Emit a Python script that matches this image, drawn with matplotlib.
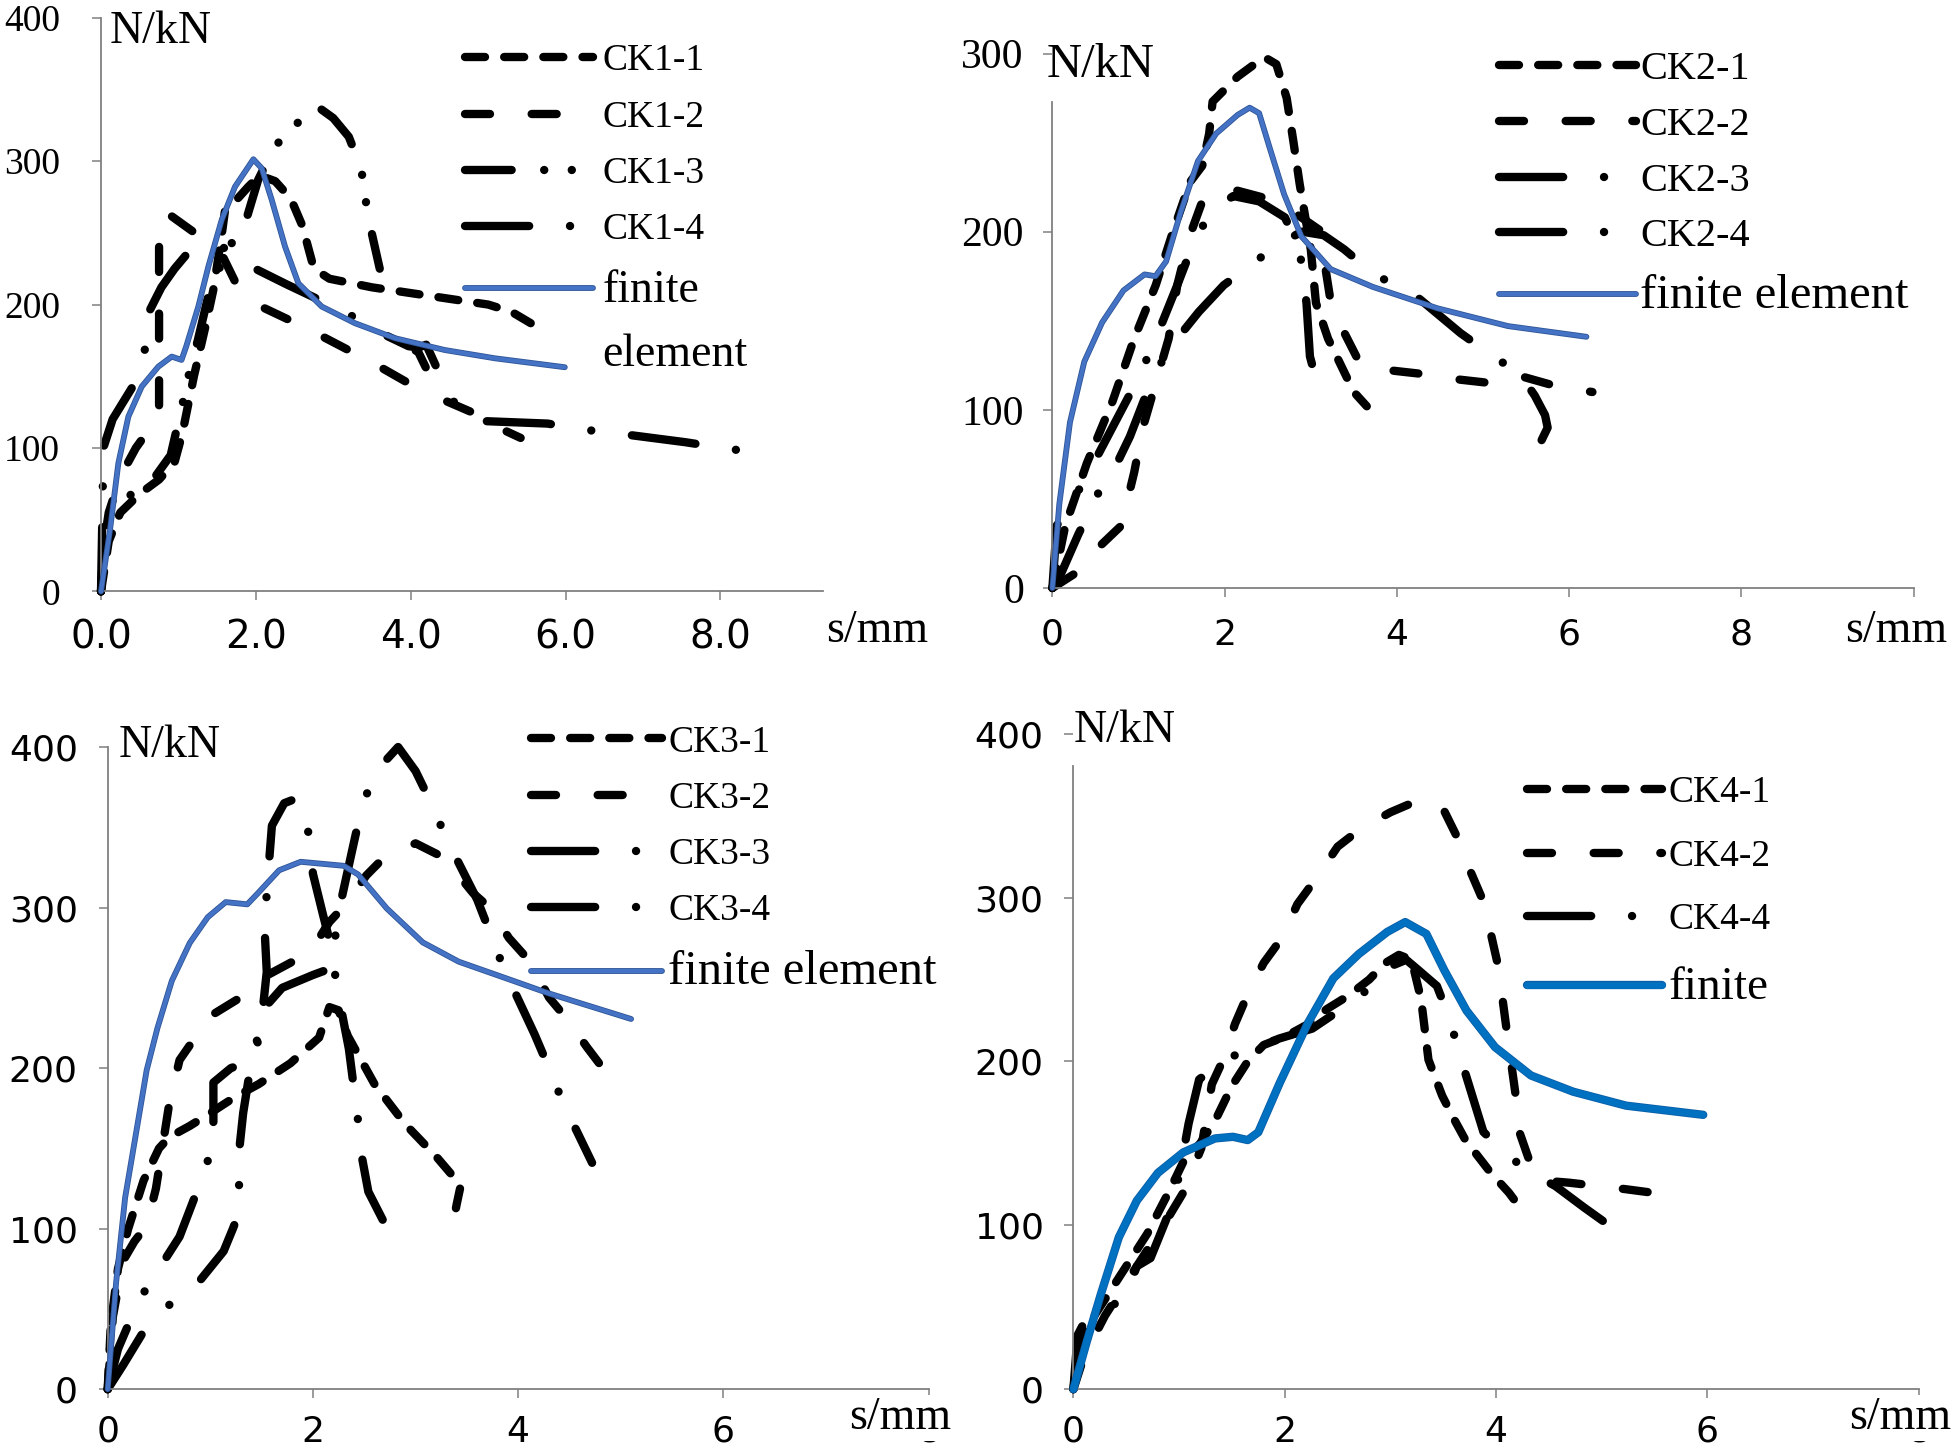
import matplotlib
matplotlib.use('Agg')
import matplotlib.pyplot as plt
import matplotlib.patheffects as pe
from matplotlib.lines import Line2D

# ---- datos (s en mm, N en kN) ----
# panel 1
ck1_1_s = [0, 0.1, 0.25, 0.5, 0.75, 0.95, 1.05, 1.2, 1.35, 1.45, 1.55, 1.6, 1.75, 1.9, 2.05, 2.25, 2.45, 2.6, 2.75, 2.95, 3.5, 4.0, 4.5, 5.0, 5.3, 5.55]
ck1_1_n = [0, 35, 55, 68, 78, 90, 110, 150, 185, 210, 245, 265, 273, 282, 290, 286, 274, 255, 225, 218, 212, 208, 204, 200, 195, 187]
ck1_2_s = [0, 0.03, 0.1, 0.25, 0.45, 0.65, 0.75, 0.75, 0.85, 1.21, 1.56, 1.75, 2.05, 2.48, 2.85, 3.24, 3.62, 4.01, 4.07, 4.25, 4.4, 4.83, 5.18, 5.42]
ck1_2_n = [0, 30, 55, 80, 100, 115, 122, 246, 264, 250, 235, 214, 199, 188, 178, 167, 156, 144, 170, 150, 134, 124, 113, 107]
ck1_3_s = [0, 0.05, 0.15, 0.4, 0.7, 0.9, 1.05, 1.15, 1.25, 1.39, 1.55, 1.69, 1.88, 2.03, 2.24, 2.49, 2.77, 3.0, 3.2, 3.36, 3.45, 3.6]
ck1_3_n = [0, 40, 58, 68, 80, 95, 130, 155, 175, 207, 228, 243, 260, 287, 310, 324, 339, 330, 317, 295, 261, 225]
ck1_4_s = [0, 0.02, 0.03, 0.15, 0.4, 0.55, 0.63, 0.78, 0.95, 1.09, 1.3, 1.55, 1.69, 1.85, 1.99, 2.4, 2.83, 3.24, 3.62, 3.97, 4.1, 4.2, 4.42, 4.6, 4.82, 5.77, 6.2, 6.69, 7.55, 8.03, 8.7]
ck1_4_n = [0, 60, 100, 120, 142, 162, 196, 212, 225, 234, 240, 240, 238, 230, 225, 214, 203, 192, 180, 171, 170, 172, 146, 128, 119, 117, 113, 110, 104, 100, 95]
fe1_s = [0, 0.116, 0.224, 0.353, 0.526, 0.74, 0.913, 1.04, 1.1, 1.257, 1.386, 1.559, 1.731, 1.968, 2.076, 2.205, 2.377, 2.549, 2.851, 3.28, 3.8, 4.44, 5.09, 5.99]
fe1_n = [0, 42.8, 89.3, 121.8, 142.8, 156.7, 163.7, 161.4, 170.7, 198.6, 226.4, 259, 282.2, 301.3, 295, 273, 240.4, 214.8, 198.6, 187, 176.5, 168.3, 162.5, 156.3]

# panel 2
ck2_1_s = [0, 0.15, 0.4, 0.7, 0.95, 1.2, 1.4, 1.6, 1.74, 1.82, 1.86, 2.15, 2.46, 2.6, 2.72, 2.8, 2.87, 2.94, 3.0, 3.06, 3.2, 3.35, 3.5, 3.65]
ck2_1_n = [0, 35, 70, 105, 140, 170, 200, 228, 237, 255, 273, 287, 298, 294, 275, 250, 227, 207, 190, 160, 140, 125, 110, 102]
ck2_2_s = [0, 0.29, 0.54, 0.8, 0.95, 1.05, 1.2, 1.35, 1.45, 1.59, 1.74, 1.9, 2.07, 2.46, 2.77, 3.1, 3.23, 3.35, 3.56, 3.95, 4.32, 4.72, 5.09, 5.43, 5.87, 6.27]
ck2_2_n = [0, 9, 23, 35, 65, 90, 115, 140, 170, 197, 217, 222, 224, 219, 212, 201, 161, 147, 127, 122, 120, 117, 115, 119, 113, 110]
ck2_3_s = [0, 0.05, 0.25, 0.5, 0.75, 1.0, 1.2, 1.45, 1.65, 1.85, 2.1, 2.4, 2.7, 2.87, 2.95, 2.99, 3.1]
ck2_3_n = [0, 35, 50, 72, 95, 118, 140, 170, 195, 212, 220, 217, 208, 190, 160, 130, 110]
ck2_4_s = [0, 0.1, 0.3, 0.55, 0.73, 0.9, 1.1, 1.3, 1.45, 1.7, 1.99, 2.27, 2.62, 2.9, 3.15, 3.39, 3.76, 4.12, 4.74, 5.09, 5.43, 5.6, 5.72, 5.75, 5.68]
ck2_4_n = [0, 8, 30, 55, 68, 85, 110, 130, 140, 155, 170, 180, 193, 200, 198, 190, 175, 168, 143, 131, 120, 108, 97, 90, 83]
fe2_s = [0, 0.08, 0.204, 0.37, 0.577, 0.825, 1.07, 1.197, 1.32, 1.49, 1.69, 1.9, 2.15, 2.29, 2.4, 2.52, 2.69, 2.89, 3.23, 3.72, 4.47, 5.29, 6.2]
fe2_n = [0, 47, 93, 127, 149, 167, 176, 175, 183.3, 211, 239.6, 255, 265.5, 269.6, 266.5, 247.5, 221, 197.4, 179, 169, 157, 147, 141]

# panel 3
ck3_1_s = [0, 0.03, 0.1, 0.2, 0.35, 0.5, 0.6, 0.8, 1.0, 1.24, 1.47, 1.78, 2.06, 2.16, 2.25, 2.34, 2.6, 2.9, 3.2, 3.44, 3.4, 3.37]
ck3_1_n = [0, 40, 75, 100, 130, 150, 157, 164, 172, 182, 190, 203, 219, 238, 236, 220, 190, 165, 145, 127, 115, 105]
ck3_2_s = [0, 0.05, 0.15, 0.26, 0.38, 0.47, 0.6, 0.7, 0.83, 1.04, 1.32, 1.53, 1.85, 2.0, 2.16, 2.32, 2.52, 2.69, 3.0, 3.28, 3.56, 3.72, 3.91, 4.12, 4.3, 4.47, 4.67, 4.86]
ck3_2_n = [0, 45, 80, 92, 102, 125, 178, 205, 217, 234, 245, 257, 268, 275, 291, 302, 320, 331, 340, 331, 309, 300, 281, 266, 244, 231, 213, 197]
ck3_3_s = [0, 0.1, 0.3, 0.5, 0.7, 0.85, 0.95, 1.03, 1.03, 1.2, 1.43, 1.5, 1.55, 1.53, 1.55, 1.6, 1.72, 1.84, 1.96, 2.0, 2.1, 2.16, 2.25, 2.35, 2.44, 2.47, 2.54, 2.7, 2.77]
ck3_3_n = [0, 25, 55, 75, 95, 120, 140, 147, 191, 200, 205, 230, 260, 285, 310, 351, 365, 368, 346, 321, 295, 280, 245, 212, 167, 147, 123, 103, 99]
ck3_4_s = [0, 0.15, 0.35, 0.59, 0.89, 1.13, 1.22, 1.28, 1.28, 1.28, 1.32, 1.37, 1.52, 1.7, 2.0, 2.17, 2.26, 2.38, 2.47, 2.6, 2.83, 3.0, 3.16, 3.3, 3.6, 3.74, 3.86, 4.16, 4.3, 4.44, 4.72]
ck3_4_n = [0, 15, 36, 52, 67, 86, 100, 110, 127, 148, 172, 192, 237, 250, 258, 262, 300, 335, 361, 384, 400, 385, 364, 343, 305, 282, 262, 221, 200, 178, 141]
fe3_s = [0, 0.082, 0.17, 0.275, 0.38, 0.485, 0.625, 0.8, 0.975, 1.15, 1.36, 1.46, 1.67, 1.88, 2.3, 2.44, 2.72, 3.07, 3.42, 3.95, 4.3, 5.1]
fe3_n = [0, 66.5, 119.4, 159, 198.8, 225, 254.4, 278, 294, 303.4, 302, 308.7, 323.2, 328.5, 326, 320.6, 299.4, 278.3, 266.3, 254.4, 246.5, 230.6]

# panel 4
ck4_1_s = [0, 0.05, 0.15, 0.3, 0.5, 0.7, 0.9, 1.05, 1.2, 1.35, 1.5, 1.65, 1.8, 2.0, 2.2, 2.4, 2.6, 2.8, 2.95, 3.08, 3.2, 3.29, 3.36, 3.49, 3.6, 3.71, 3.95, 4.12, 4.26]
ck4_1_n = [0, 25, 40, 55, 75, 95, 120, 140, 150, 165, 185, 200, 210, 215, 222, 232, 240, 250, 260, 265, 262, 238, 201, 179, 165, 152, 132, 120, 108]
ck4_2_s = [0, 0.1, 0.3, 0.5, 0.7, 0.9, 1.04, 1.21, 1.31, 1.41, 1.53, 1.65, 1.8, 1.97, 2.12, 2.29, 2.5, 2.72, 3.0, 3.29, 3.5, 3.63, 3.75, 3.87, 3.95, 4.02, 4.1, 4.19, 4.22, 4.36, 4.5, 4.69, 5.23, 5.7]
ck4_2_n = [0, 20, 45, 65, 85, 105, 120, 147, 186, 200, 223, 241, 260, 275, 296, 311, 331, 342, 352, 360, 354, 337, 317, 299, 278, 258, 219, 177, 157, 131, 127, 126, 122, 118]
ck4_4_s = [0, 0.04, 0.12, 0.3, 0.48, 0.6, 0.73, 0.9, 1.0, 1.09, 1.19, 1.31, 1.41, 1.63, 1.95, 2.26, 2.56, 2.83, 3.0, 3.15, 3.26, 3.44, 3.56, 3.66, 3.77, 3.88, 4.07, 4.3, 4.56, 4.83, 5.09, 5.3]
ck4_4_n = [0, 33, 43, 50, 54, 75, 80, 107, 130, 162, 189, 195, 201, 206, 214, 220, 233, 246, 258, 262, 256, 246, 226, 203, 180, 157, 145, 133, 124, 111, 99, 88]
fe4_s = [0, 0.124, 0.26, 0.43, 0.6, 0.8, 1.04, 1.34, 1.51, 1.65, 1.75, 1.95, 2.22, 2.46, 2.7, 2.97, 3.14, 3.34, 3.51, 3.72, 3.99, 4.33, 4.73, 5.23, 5.96]
fe4_n = [0, 28.5, 58, 92.7, 115, 132, 144.5, 153, 154, 152, 156.8, 186.5, 223.5, 250.7, 265.5, 279, 285, 277.8, 255.6, 231, 208.7, 191.4, 181.5, 173, 167.4]

W, H = 1959, 1452
SERIF = 'Liberation Serif'
SANS = 'DejaVu Sans'
GRIS = '#808080'

# estilos de linea (en unidades del grosor)
corto = (0, (2.4, 2.3))
largo = (0, (3.0, 5.0))
raya_punto = (0, (7.7, 4.9, 0.01, 4.9))
raya_2puntos = (0, (5.6, 3.9, 0.01, 3.3, 0.01, 3.9))

fig = plt.figure(figsize=(W / 100, H / 100), dpi=100)


def caja(x0, x1, ytop, ybot):
    return [x0 / W, 1 - ybot / H, (x1 - x0) / W, (ybot - ytop) / H]


def ejes(rect, xmax, ymax, xt, xl, yt, fx, fy, padx, pady):
    ax = fig.add_axes(rect)
    ax.set_xlim(0, xmax)
    ax.set_ylim(0, ymax)
    for s in ['top', 'right']:
        ax.spines[s].set_visible(False)
    for s in ['left', 'bottom']:
        ax.spines[s].set_color(GRIS)
        ax.spines[s].set_linewidth(1.3)
    ax.set_xticks(xt)
    ax.set_xticklabels(xl)
    ax.set_yticks(yt)
    ax.set_yticklabels([str(v) for v in yt])
    ax.tick_params(axis='both', direction='out', length=6.5, width=1.1, color=GRIS)
    ax.tick_params(axis='x', pad=padx)
    ax.tick_params(axis='y', pad=pady)
    for t in ax.get_xticklabels():
        t.set_fontfamily(fx[0]); t.set_fontsize(fx[1])
    for t in ax.get_yticklabels():
        t.set_fontfamily(fy[0]); t.set_fontsize(fy[1])
    return ax


def curva(ax, s, n, ls, lab):
    l, = ax.plot(s, n, color='black', lw=6, linestyle=ls, dash_capstyle='round',
                 solid_capstyle='round', label=lab, clip_on=False, zorder=2)
    return l


def fe(ax, s, n, color, lw, borde):
    l, = ax.plot(s, n, color=color, lw=lw, solid_capstyle='round', clip_on=False, zorder=3,
                 path_effects=[pe.Stroke(linewidth=lw + 1.2, foreground=borde), pe.Normal()])
    return l


def leyenda(ax, hs, labs, left, top, fs, hl, htp, ls, fe_fs, fe_idx):
    leg = ax.legend(hs, labs, loc='upper left', bbox_to_anchor=(left / W, 1 - top / H),
                    bbox_transform=fig.transFigure, frameon=False, borderpad=0, borderaxespad=0,
                    handlelength=hl, handletextpad=htp, labelspacing=ls,
                    prop={'family': SERIF, 'size': fs})
    for i in fe_idx:
        leg.get_texts()[i].set_fontsize(fe_fs)
    return leg


def texto(x, y, s, size=33, tapa=False):
    kw = {}
    if tapa:
        kw['bbox'] = dict(facecolor='white', edgecolor='none', pad=1)
    fig.text(x / W, 1 - y / H, s, family=SERIF, size=size, ha='left', va='center', **kw)


vacio = Line2D([], [], linestyle='none')

# ---- panel 1 ----
ax1 = ejes(caja(101, 823.4, 17.7, 591.4), 9.33, 400, [0, 2, 4, 6, 8], ['0.0', '2.0', '4.0', '6.0', '8.0'],
           [0, 100, 200, 300, 400], (SANS, 28), (SERIF, 27), 13, 23)
a = curva(ax1, ck1_1_s, ck1_1_n, corto, 'CK1-1')
b = curva(ax1, ck1_2_s, ck1_2_n, largo, 'CK1-2')
c = curva(ax1, ck1_3_s, ck1_3_n, raya_2puntos, 'CK1-3')
d = curva(ax1, ck1_4_s, ck1_4_n, raya_punto, 'CK1-4')
f = fe(ax1, fe1_s, fe1_n, '#4472C4', 3.0, '#2f5597')
leyenda(ax1, [a, b, c, d, f, vacio], ['CK1-1', 'CK1-2', 'CK1-3', 'CK1-4', 'finite', 'element'],
        465, 44, 27, 3.4, 0.27, 0.58, 33, [4, 5])
texto(110, 32, 'N/kN')
texto(826, 631, 's/mm')

# ---- panel 2 ----
ax2 = ejes(caja(1052.4, 1913.7, 53.5, 588), 10, 300, [0, 2, 4, 6, 8, 10], ['0', '2', '4', '6', '8', ''],
           [0, 100, 200, 300], (SANS, 26), (SERIF, 30), 15, 14)
ax2.spines['left'].set_bounds(0, 273)
a = curva(ax2, ck2_1_s, ck2_1_n, corto, 'CK2-1')
b = curva(ax2, ck2_2_s, ck2_2_n, largo, 'CK2-2')
c = curva(ax2, ck2_3_s, ck2_3_n, raya_punto, 'CK2-3')
d = curva(ax2, ck2_4_s, ck2_4_n, raya_punto, 'CK2-4')
f = fe(ax2, fe2_s, fe2_n, '#4472C4', 3.0, '#2f5597')
leyenda(ax2, [a, b, c, d, f], ['CK2-1', 'CK2-2', 'CK2-3', 'CK2-4', 'finite element'],
        1499, 51, 29, 3.4, 0.1, 0.46, 35, [4])
texto(1047, 65, 'N/kN', 35)
texto(1845, 631, 's/mm')

# ---- panel 3 ----
ax3 = ejes(caja(107.7, 928.7, 747, 1389.2), 8, 400, [0, 2, 4, 6, 8], ['0', '2', '4', '6', '8'],
           [0, 100, 200, 300, 400], (SANS, 26), (SANS, 26), 12, 15)
a = curva(ax3, ck3_1_s, ck3_1_n, corto, 'CK3-1')
b = curva(ax3, ck3_2_s, ck3_2_n, largo, 'CK3-2')
c = curva(ax3, ck3_3_s, ck3_3_n, raya_punto, 'CK3-3')
d = curva(ax3, ck3_4_s, ck3_4_n, raya_punto, 'CK3-4')
f = fe(ax3, fe3_s, fe3_n, '#4472C4', 3.0, '#2f5597')
leyenda(ax3, [a, b, c, d, f], ['CK3-1', 'CK3-2', 'CK3-3', 'CK3-4', 'finite element'],
        531, 725, 27, 3.5, 0.16, 0.58, 35, [4])
texto(119, 746, 'N/kN')
texto(849, 1418, 's/mm', tapa=True)

# ---- panel 4 ----
ax4 = ejes(caja(1073.4, 1918.8, 733.6, 1389.2), 8, 400, [0, 2, 4, 6, 8], ['0', '2', '4', '6', '8'],
           [0, 100, 200, 300, 400], (SANS, 26), (SANS, 26), 12, 15)
ax4.spines['left'].set_bounds(0, 380)
a = curva(ax4, ck4_1_s, ck4_1_n, corto, 'CK4-1')
b = curva(ax4, ck4_2_s, ck4_2_n, largo, 'CK4-2')
d = curva(ax4, ck4_4_s, ck4_4_n, raya_punto, 'CK4-4')
f = fe(ax4, fe4_s, fe4_n, '#0070C0', 4.8, '#0a5fa8')
leyenda(ax4, [a, b, d, f], ['CK4-1', 'CK4-2', 'CK4-4', 'finite'],
        1527, 776, 27, 3.6, 0.16, 0.77, 34, [3])
texto(1074, 731, 'N/kN')
texto(1849, 1418, 's/mm', tapa=True)

fig.savefig('out.png', dpi=100)
